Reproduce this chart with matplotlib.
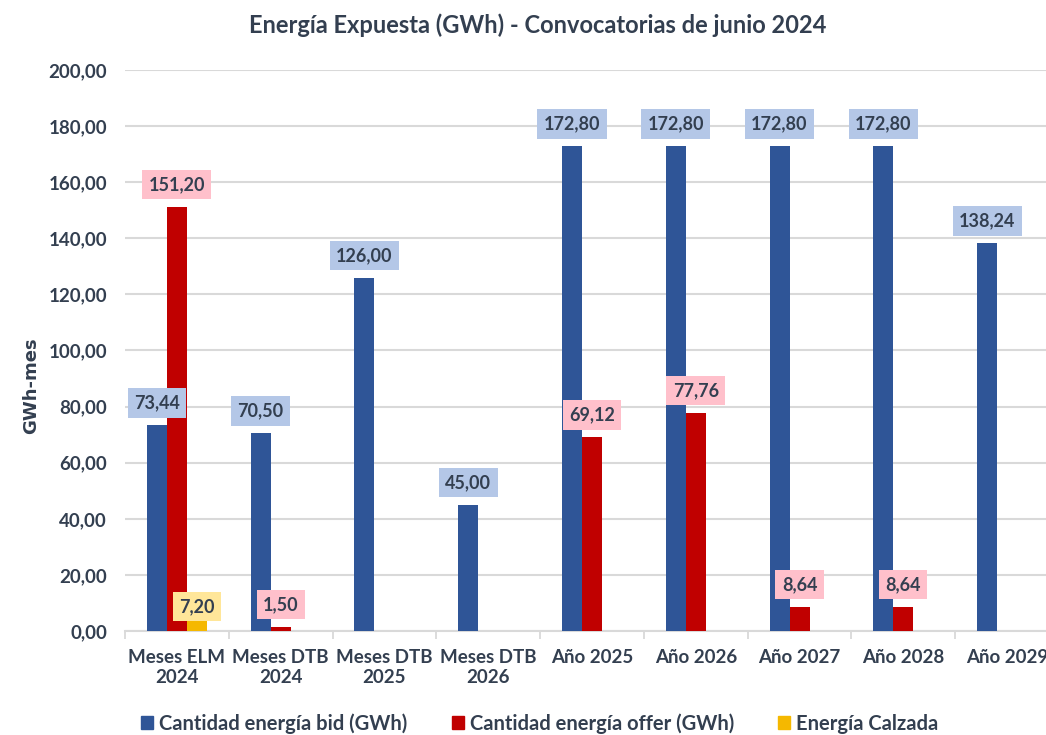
import matplotlib.pyplot as plt
import numpy as np
from matplotlib.patches import Patch

plt.rcParams['font.family'] = ['Lato', 'DejaVu Sans']
plt.rcParams['font.weight'] = 'bold'

categories = ["Meses ELM\n2024", "Meses DTB\n2024", "Meses DTB\n2025",
              "Meses DTB\n2026", "Año 2025", "Año 2026", "Año 2027",
              "Año 2028", "Año 2029"]
bid = [73.44, 70.50, 126.00, 45.00, 172.80, 172.80, 172.80, 172.80, 138.24]
offer = [151.20, 1.50, 0, 0, 69.12, 77.76, 8.64, 8.64, 0]
calzada = [7.20, 0, 0, 0, 0, 0, 0, 0, 0]
series_names = ["Cantidad energía bid (GWh)", "Cantidad energía offer (GWh)",
                "Energía Calzada"]
yticks = np.arange(0, 201, 20)

text_c = '#333f50'
bar_colors = ['#2f5597', '#c00000', '#f5b800']
box_colors = ['#b4c7e7', '#ffc0cb', '#ffe699']

fig = plt.figure(figsize=(10.46, 7.35), dpi=100)
ax = fig.add_axes([125 / 1046, 104 / 735, 934 / 1046, 561 / 735])

x = np.arange(len(categories))
w = 0.193

for k, vals in enumerate([bid, offer, calzada]):
    xs = x + (k - 1) * w
    ax.bar(xs, vals, w, color=bar_colors[k], zorder=3)
    for xi, v in zip(xs, vals):
        if v == 0:
            continue
        dy = 16
        if k == 2:
            dy = 3  # label sits lower in the original
        ax.annotate(f"{v:.2f}".replace('.', ','), (xi, v),
                    xytext=(0, dy), textcoords='offset points',
                    ha='center', va='center', fontsize=13, color=text_c,
                    fontweight='bold', zorder=5,
                    bbox=dict(boxstyle='square,pad=0.35', fc=box_colors[k],
                              ec='none'))

ax.set_xlim(-0.5, len(categories) - 0.5)
ax.set_ylim(0, 200)
ax.set_yticks(yticks)
ax.set_yticklabels([f"{v:.2f}".replace('.', ',') for v in yticks],
                   fontsize=13.5, color=text_c)
ax.set_xticks(x)
ax.set_xticklabels(categories, fontsize=13.5, color=text_c)
ax.set_xticks(np.arange(-0.5, len(categories), 1), minor=True)
ax.tick_params(axis='x', which='major', length=0, pad=13)
ax.tick_params(axis='x', which='minor', length=6, color='#d9d9d9', width=1.3)
ax.tick_params(axis='y', length=0, pad=13)

ax.grid(axis='y', color='#d9d9d9', linewidth=1.5, zorder=0)
ax.set_axisbelow(True)
for s in ['top', 'right', 'left']:
    ax.spines[s].set_visible(False)
ax.spines['bottom'].set_color('#d9d9d9')
ax.spines['bottom'].set_linewidth(1.5)

fig.text(0.03, 0.475, "GWh-mes", rotation=90, ha='center', va='center',
         fontsize=13, color=text_c, fontweight='bold', family='DejaVu Sans')
fig.text(0.514, 0.966, "Energía Expuesta (GWh) - Convocatorias de junio 2024",
         ha='center', va='center', fontsize=17, color=text_c, fontweight='bold')

handles = [Patch(color=c) for c in bar_colors]
fig.legend(handles, series_names, loc='center', bbox_to_anchor=(0.516, 0.016),
           ncol=3, frameon=False, fontsize=14.5, labelcolor=text_c,
           handlelength=0.6, handleheight=0.6, handletextpad=0.3,
           columnspacing=2.2, borderpad=0.2)

plt.savefig("out.png", dpi=100)
